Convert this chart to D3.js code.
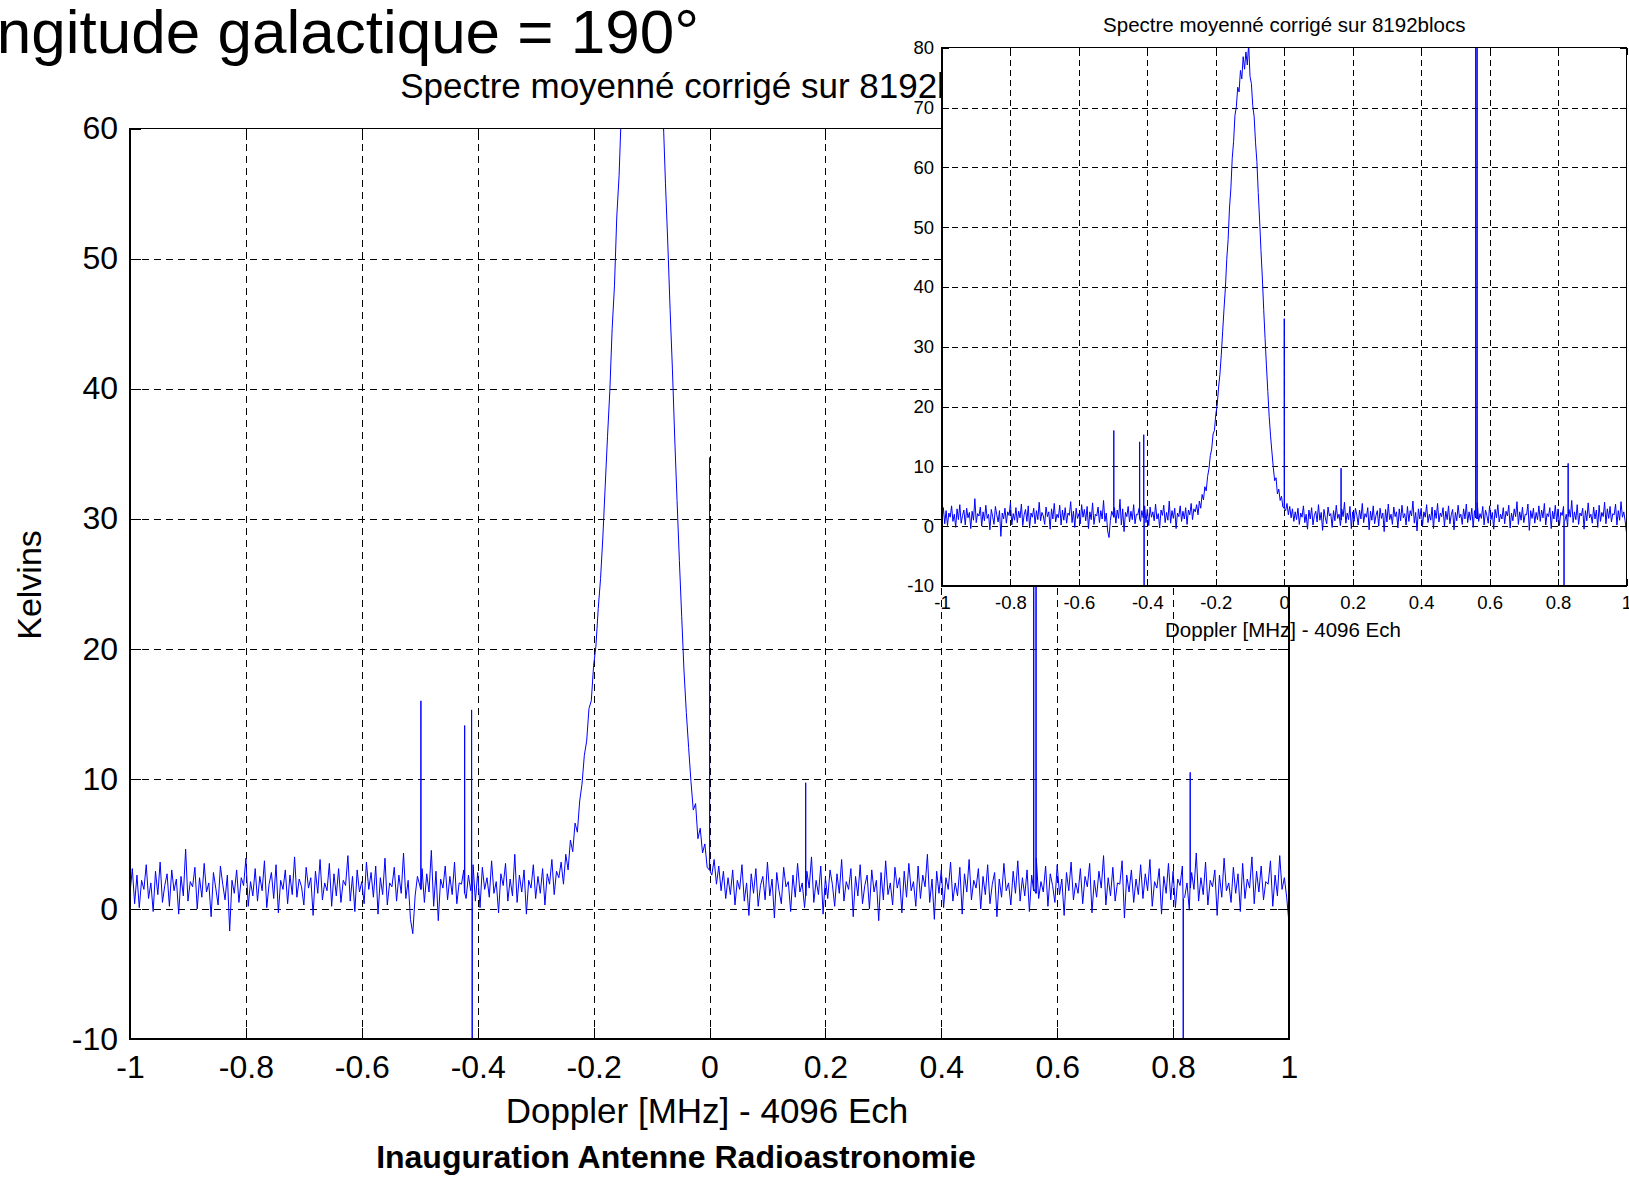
<!DOCTYPE html>
<html lang="fr">
<head>
<meta charset="utf-8">
<title>Spectre moyenné corrigé sur 8192blocs</title>
<script src="https://cdn.jsdelivr.net/npm/d3@7"></script>
<style>
  body { margin: 0; background: #fff; }
  svg { display: block; font-family: "Liberation Sans", Arial, Helvetica, sans-serif; }
</style>
</head>
<body>
<div id="chart"></div>
<script>
// Spectre HI moyenné - longitude galactique 190°
// 501 canaux, de -1 à +1 MHz

const dopplerMin = -1;
const dopplerMax = 1;

// fond de bruit à gauche de la raie (-1 → -0.264 MHz)
const baselineLeft = [
  1.2, 3.1, 0.4, 2.6, 0.1, 2.2, 1.5, 3.4, 0.8, 2.0, -0.2, 2.9, 1.1, 3.6, 0.5, 1.8, 2.7, 0.2, 3.0, 1.4, 2.3, -0.4, 2.5, 1.0, 4.6,
  0.6, 2.1, 1.7, 3.2, 0.0, 2.4, 0.9, 3.5, 1.3, 2.0, -0.6, 2.8, 1.6, 0.3, 3.3, 1.9, 0.7, 2.6, -1.7, 2.2, 1.2, 3.0, 0.5, 2.4, 1.8,
  3.9, 0.2, 2.1, 1.0, 3.1, 0.6, 2.5, 1.4, 3.7, 0.1, 1.9, 2.8, 0.8, 3.4, -0.3, 2.2, 1.5, 3.0, 0.4, 2.6, 1.1, 4.0, 0.9, 2.3, 1.7,
  0.3, 3.2, 1.6, 2.4, -0.5, 2.9, 1.2, 3.8, 0.7, 2.0, 1.4, 3.5, 0.2, 2.7, 1.0, 3.1, 0.5, 2.2, 1.8, 4.1, 0.6, 2.5, -0.2, 3.0, 1.3,
  2.1, 0.4, 3.6, 1.5, 2.8, 0.9, 3.3, -0.4, 2.4, 1.1, 3.9, 0.3, 2.0, 1.7, 3.2, 0.6, 2.6, 1.2, 4.3, 0.8, 2.2, -0.8, -1.9, 1.0, 2.5,
  1.8, 3.1, 0.5, 2.7, 1.3, 4.5, 0.2, 2.9, -0.9, 2.3, 1.6, 3.3, 0.7, 2.5, 1.1, 3.6, 0.4, 2.0, 1.9, 3.0, 0.8, 2.6, 1.4, 3.4, 0.6,
  2.8, 0.1, 3.2, 1.5, 2.4, 0.9, 3.7, 1.2, 2.1, -0.3, 2.7, 1.8, 3.5, 0.6, 2.3, 1.0, 4.2, 0.5, 2.6, 1.3, 3.0, -0.4, 2.2, 1.6, 3.4,
  0.8, 2.5, 1.2, 3.1, 0.3, 2.7, 1.9, 3.8, 1.1, 2.9
];

// raie HI (-0.26 → +0.04 MHz)
const hiLine = [
  2.4, 3.6, 1.9, 4.2, 3.0, 5.3, 4.4, 6.6, 5.9, 8.3, 9.6, 11.8, 12.9, 15.4, 16.0, 18.7,
  20.2, 23.1, 25.4, 28.6, 32.5, 36.3, 39.8, 44.6, 47.9, 53.2, 56.4, 61.5, 64.3, 68.7, 70.1, 73.4,
  72.6, 76.2, 74.8, 78.5, 76.4, 79.3, 77.1, 80.6, 75.2, 74.0, 70.3, 68.5, 64.2, 61.0, 55.8, 51.2,
  46.1, 41.5, 36.2, 31.4, 26.8, 22.5, 18.3, 15.1, 12.4, 9.8, 7.6, 8.1, 5.4, 6.2, 4.3, 5.0,
  3.2, 4.1, 2.6, 3.8, 1.9, 3.3, 1.4, 2.9, 0.8, 2.4, 1.1, 3.0
];

// fond de bruit à droite de la raie (+0.044 → +1 MHz)
const baselineRight = [
  0.3, 2.2, 1.5, 3.4, 0.6, 2.0, -0.5, 2.7, 1.2, 3.1, 0.2, 1.8, 2.5, 0.7, 3.6, 1.0, 2.3, -0.7, 2.8, 1.4, 0.4, 3.2, 1.7, 2.1, -0.2,
  2.6, 0.9, 3.5, 1.3, 2.0, 0.1, 2.9, 1.6, 4.0, 0.5, 2.2, 1.1, 3.3, -0.4, 2.4, 0.8, 3.0, 1.9, 0.2, 2.7, 1.2, 3.8, 0.6, 2.1, 1.5,
  3.1, -0.6, 2.5, 1.0, 3.4, 0.4, 1.8, 2.6, 0.0, 3.0, 1.3, 2.2, -0.9, 2.8, 0.7, 3.7, 1.1, 2.0, 0.3, 3.2, 1.6, 2.4, -0.3, 2.9, 0.9,
  3.5, 1.4, 2.1, 0.2, 3.3, 0.8, 2.6, 1.7, 4.2, 0.5, 2.3, -0.8, 2.9, 1.2, 3.0, 0.1, 2.4, 1.5, 3.6, 0.6, 2.0, 1.0, 3.2, -0.4, 2.7,
  1.3, 3.8, 0.7, 2.2, 1.6, 3.1, 0.0, 2.5, 1.1, 3.4, 0.4, 1.9, 2.8, -0.6, 2.3, 0.9, 3.5, 1.4, 2.0, 0.3, 2.9, 1.2, 3.7, 0.6, 2.4,
  1.0, 3.0, -0.2, 2.6, 1.5, 3.9, 0.8, 2.1, 1.3, 3.3, 0.2, 2.7, 1.8, 0.5, 3.4, 1.1, 2.3, -0.5, 2.8, 1.4, 3.6, 0.7, 2.0, 1.2, 3.1,
  0.4, 2.5, 1.7, 3.5, -0.3, 2.2, 0.9, 2.9, 1.6, 4.1, 0.3, 2.4, 1.0, 3.2, 0.6, 2.0, 1.9, 3.7, -0.7, 2.6, 1.3, 3.0, 0.5, 2.3, 1.1,
  3.4, 0.8, 2.7, 1.4, 3.8, 0.2, 2.1, 1.6, 3.1, -0.4, 2.5, 1.2, 3.5, 0.7, 2.9, 0.1, 2.3, 1.8, 3.3, 0.9, 2.0, -0.1, 2.8, 1.5, 4.3,
  0.6, 2.4, 1.1, 3.6, 0.3, 2.2, 1.7, 3.0, -0.5, 2.6, 0.9, 3.9, 1.4, 2.0, 0.5, 3.2, 1.2, 2.7, -0.2, 3.5, 0.8, 2.3, 1.6, 4.0, 0.4,
  2.9, 1.3, 3.3, 0.7, 2.1, 1.9, 3.7, 0.2, 2.6, 1.0, 4.1, 1.5, 2.4, 0.9, -1.1
];

// parasites (un seul canal)
const spikeDoppler = [-0.498, -0.4225, -0.4105, -0.4095, 0.0, 0.166, 0.5595, 0.5635, 0.8175, 0.8295];
const spikePeak    = [16.0, 14.1, 15.3, -14.0, 34.7, 9.7, 110.0, 110.0, -14.0, 10.5];
const spikeBase    = [1.5, 1.2, 2.0, 1.0, 3.0, 1.0, 1.4, 1.2, 0.8, 1.6];

const xTicks = [-1, -0.8, -0.6, -0.4, -0.2, 0, 0.2, 0.4, 0.6, 0.8, 1];
const xTickLabels = ["-1", "-0.8", "-0.6", "-0.4", "-0.2", "0", "0.2", "0.4", "0.6", "0.8", "1"];
const mainYTicks = [-10, 0, 10, 20, 30, 40, 50, 60];
const insetYTicks = [-10, 0, 10, 20, 30, 40, 50, 60, 70, 80];

// --- points de la courbe
const kelvins = baselineLeft.concat(hiLine, baselineRight);
const step = (dopplerMax - dopplerMin) / (kelvins.length - 1);
const points = kelvins.map((k, i) => ({ x: dopplerMin + i * step, y: k }));
spikeDoppler.forEach((s, i) => {
  points.push({ x: s - 0.0003, y: spikeBase[i] });
  points.push({ x: s, y: spikePeak[i] });
  points.push({ x: s + 0.0003, y: spikeBase[i] });
});
points.sort((a, b) => a.x - b.x);

const W = 1629, H = 1177;
const svg = d3.select("#chart").append("svg")
  .attr("width", W)
  .attr("height", H);

function drawPanel(o) {
  const x = d3.scaleLinear().domain([dopplerMin, dopplerMax]).range([o.left, o.right]);
  const y = d3.scaleLinear().domain([o.yTicks[0], o.yTicks[o.yTicks.length - 1]]).range([o.bottom, o.top]);
  const w = o.right - o.left, h = o.bottom - o.top;
  const g = svg.append("g");

  g.append("rect")
    .attr("x", o.left).attr("y", o.top)
    .attr("width", w).attr("height", h)
    .attr("fill", "#fff");

  // grille pointillée
  g.append("g")
    .attr("transform", `translate(0,${o.bottom})`)
    .call(d3.axisBottom(x).tickValues(xTicks.slice(1, -1)).tickSize(-h).tickFormat(""))
    .call(a => a.select(".domain").remove())
    .selectAll("line")
    .attr("stroke", "#000")
    .attr("stroke-dasharray", o.dash)
    .attr("shape-rendering", "crispEdges");

  g.append("g")
    .attr("transform", `translate(${o.left},0)`)
    .call(d3.axisLeft(y).tickValues(o.yTicks.slice(1, -1)).tickSize(-w).tickFormat(""))
    .call(a => a.select(".domain").remove())
    .selectAll("line")
    .attr("stroke", "#000")
    .attr("stroke-dasharray", o.dash)
    .attr("shape-rendering", "crispEdges");

  // courbe
  g.append("clipPath").attr("id", o.id)
    .append("rect")
    .attr("x", o.left).attr("y", o.top)
    .attr("width", w).attr("height", h);

  g.append("path")
    .datum(points)
    .attr("clip-path", `url(#${o.id})`)
    .attr("fill", "none")
    .attr("stroke", "#0000ff")
    .attr("stroke-width", 1)
    .attr("stroke-linejoin", "miter")
    .attr("d", d3.line().x(d => x(d.x)).y(d => y(d.y)));

  // petites graduations intérieures
  const tickSets = [
    [d3.axisBottom(x).tickValues(xTicks), `translate(0,${o.bottom})`],
    [d3.axisTop(x).tickValues(xTicks), `translate(0,${o.top})`],
    [d3.axisLeft(y).tickValues(o.yTicks), `translate(${o.left},0)`],
    [d3.axisRight(y).tickValues(o.yTicks), `translate(${o.right},0)`]
  ];
  tickSets.forEach(([ax, tr]) => {
    g.append("g")
      .attr("transform", tr)
      .call(ax.tickSize(-o.tickLen).tickFormat(""))
      .call(a => a.select(".domain").remove())
      .selectAll("line")
      .attr("stroke", "#000")
      .attr("shape-rendering", "crispEdges");
  });

  // cadre
  g.append("rect")
    .attr("x", o.left).attr("y", o.top)
    .attr("width", w).attr("height", h)
    .attr("fill", "none")
    .attr("stroke", "#000")
    .attr("stroke-width", o.frame)
    .attr("shape-rendering", "crispEdges");

  // étiquettes des graduations
  g.append("g")
    .attr("transform", `translate(0,${o.bottom})`)
    .call(d3.axisBottom(x).tickValues(xTicks).tickSize(0).tickPadding(o.xPad)
      .tickFormat((d, i) => xTickLabels[i]))
    .attr("font-size", o.tickFont)
    .attr("font-family", null)
    .call(a => a.select(".domain").remove())
    .selectAll("text").attr("fill", "#000");

  g.append("g")
    .attr("transform", `translate(${o.left},0)`)
    .call(d3.axisLeft(y).tickValues(o.yTicks).tickSize(0).tickPadding(o.yPad)
      .tickFormat(d => String(d)))
    .attr("font-size", o.tickFont)
    .attr("font-family", null)
    .call(a => a.select(".domain").remove())
    .selectAll("text").attr("fill", "#000");

  // titre + légende de l'axe x
  g.append("text")
    .attr("x", (o.left + o.right) / 2)
    .attr("y", o.titleY)
    .attr("text-anchor", "middle")
    .style("font-size", o.titleFont + "px")
    .text("Spectre moyenné corrigé sur 8192blocs");

  g.append("text")
    .attr("x", o.xlabelX)
    .attr("y", o.xlabelY)
    .attr("text-anchor", "middle")
    .style("font-size", o.titleFont + "px")
    .text("Doppler [MHz] - 4096 Ech");

  return g;
}

// Grand titre (coupé à gauche comme sur la figure)
svg.append("text")
  .attr("x", 699)
  .attr("y", 53)
  .attr("text-anchor", "end")
  .style("font-size", "62px")
  .text("Longitude galactique = 190°");

// Graphe principal
drawPanel({
  id: "clipMain",
  left: 130, right: 1289, top: 128.5, bottom: 1039,
  yTicks: mainYTicks,
  dash: "7,5", tickLen: 11, frame: 1.5,
  tickFont: 32, xPad: 16, yPad: 12,
  titleFont: 35, titleY: 98,
  xlabelX: 707, xlabelY: 1123
});

svg.append("text")
  .attr("transform", "translate(41,585) rotate(-90)")
  .attr("text-anchor", "middle")
  .style("font-size", "34px")
  .text("Kelvins");

svg.append("text")
  .attr("x", 676)
  .attr("y", 1168)
  .attr("text-anchor", "middle")
  .style("font-size", "32px")
  .style("font-weight", "700")
  .text("Inauguration Antenne Radioastronomie");

// Encart (même spectre, échelle -10 → 80)
drawPanel({
  id: "clipInset",
  left: 942, right: 1626.5, top: 47.7, bottom: 586,
  yTicks: insetYTicks,
  dash: "6,4", tickLen: 7, frame: 1.2,
  tickFont: 18.5, xPad: 10, yPad: 8,
  titleFont: 20.5, titleY: 31.5,
  xlabelX: 1283, xlabelY: 637
});
</script>
</body>
</html>
